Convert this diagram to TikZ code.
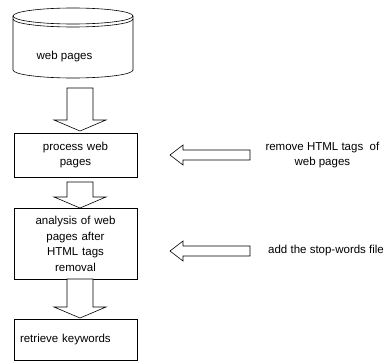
\documentclass[tikz,border=0pt]{standalone}
\usepackage{fontspec}
\setmainfont{Liberation Sans}
\usetikzlibrary{positioning,calc}
\tikzset{
  stepBox/.style={
    rectangle,
    draw=black,
    line width=0.6pt,
    text width=123pt,
    inner sep=0pt,
    align=center
  },
  plainEdge/.style={
    draw=black,
    line width=0.6pt
  },
  noteText/.style={
    inner sep=0pt,
    align=center
  },
  pics/downArrow/.style={
    code={
      \draw[plainEdge, fill=white] (-13,0) -- (-13,{-#1+11}) -- (-26,{-#1+11}) -- (0,-#1)
        -- (26,{-#1+11}) -- (13,{-#1+11}) -- (13,0) -- cycle;
    }
  },
  pics/leftArrow/.style={
    code={
      \draw[plainEdge, fill=white] (0,0) -- (13,10) -- (13,5) -- (#1,5) -- (#1,-5)
        -- (13,-5) -- (13,-10) -- cycle;
    }
  }
}

\begin{document}
\begin{tikzpicture}[
    x=1pt, y=1pt,
    every node/.style={font=\fontsize{11.5}{15.5}\selectfont}
  ]
  \useasboundingbox (0,0) rectangle (390,360);

  % storage of pages
  \draw[plainEdge] (13,344) -- (13,290) arc[start angle=180, end angle=360, x radius=60, y radius=8] -- (133,344);
  \draw[plainEdge] (73,344) ellipse [x radius=60, y radius=8];
  \draw[plainEdge] (13,341) arc[start angle=180, end angle=360, x radius=60, y radius=8];
  \node[inner sep=0pt] (pages) at (64.5,303) {web pages};

  % main steps
  \node[stepBox, minimum height=44pt] (proc) at (75.5,205) {process web\\pages};
  \node[stepBox, minimum height=71pt, below=31pt of proc] (analysis) {analysis of web\\pages after\\HTML tags\\removal};
  \node[stepBox, minimum height=41pt, text width=111pt, inner xsep=6pt, align=left, below=39pt of analysis] (keywords) {retrieve keywords};

  \pic at (80,272) {downArrow=43};
  \pic at (80,178) {downArrow=26};
  \pic at (80,81) {downArrow=39};

  % side inputs
  \node[noteText, right=128pt of proc] (tagNote) {remove HTML tags\ \ of\\web pages};
  \node[noteText, anchor=west] (stopNote) at (268,109) {add the stop-words file};

  \pic at (170,205) {leftArrow=80};
  \pic at (170,109) {leftArrow=80};
\end{tikzpicture}
\end{document}
